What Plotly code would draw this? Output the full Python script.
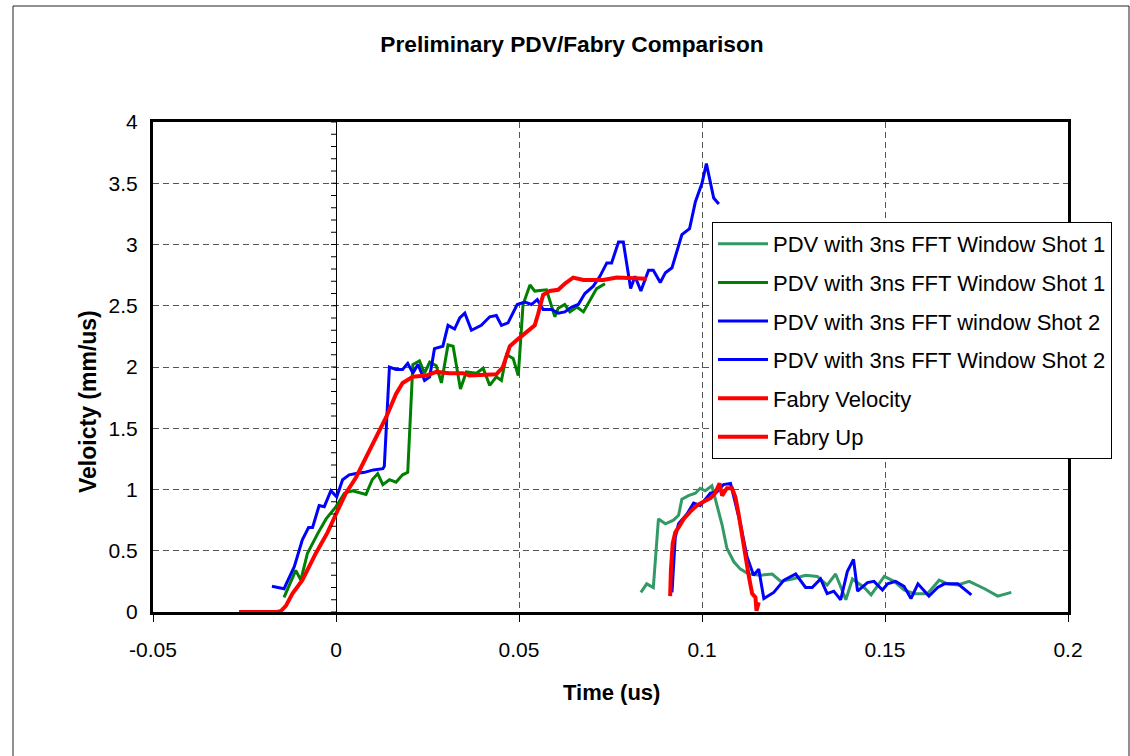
import plotly.graph_objects as go

# ---- series data: time (us) and velocity (mm/us) ----
teal_t = [0.0833, 0.0849, 0.0867, 0.0881, 0.0900, 0.0922, 0.0936, 0.0945, 0.0963, 0.0982,
          0.0995, 0.1009, 0.1027, 0.1041, 0.1055, 0.1068, 0.1087, 0.1105, 0.1128, 0.1160,
          0.1192, 0.1215, 0.1247, 0.1283, 0.1315, 0.1342, 0.1365, 0.1393, 0.1411, 0.1443,
          0.1462, 0.1498, 0.1525, 0.1552, 0.1580, 0.1616, 0.1648, 0.1671, 0.1699, 0.1730,
          0.1772, 0.1808, 0.1845]
teal_v = [0.16, 0.23, 0.20, 0.76, 0.72, 0.75, 0.79, 0.92, 0.95, 0.97,
          1.01, 0.99, 1.03, 0.86, 0.71, 0.52, 0.41, 0.35, 0.31, 0.30,
          0.31, 0.25, 0.27, 0.30, 0.29, 0.22, 0.31, 0.10, 0.27, 0.20,
          0.14, 0.29, 0.25, 0.18, 0.15, 0.15, 0.26, 0.23, 0.22, 0.25,
          0.19, 0.13, 0.16]

green_t = [-0.0142, -0.0110, -0.0096, -0.0078, -0.0050, -0.0027, 0.0000, 0.0023, 0.0045, 0.0082,
           0.0099, 0.0114, 0.0128, 0.0146, 0.0164, 0.0182, 0.0196, 0.0210, 0.0228, 0.0242,
           0.0256, 0.0274, 0.0288, 0.0306, 0.0320, 0.0340, 0.0356, 0.0384, 0.0402, 0.0420,
           0.0438, 0.0452, 0.0466, 0.0484, 0.0498, 0.0511, 0.0530, 0.0543, 0.0575, 0.0598,
           0.0607, 0.0625, 0.0639, 0.0658, 0.0676, 0.0694, 0.0712, 0.0735]
green_v = [0.12, 0.34, 0.26, 0.48, 0.64, 0.76, 0.86, 0.97, 0.99, 0.96,
           1.08, 1.13, 1.04, 1.08, 1.06, 1.12, 1.14, 2.02, 2.05, 1.95,
           2.04, 2.01, 1.87, 2.18, 2.17, 1.82, 1.96, 1.95, 1.99, 1.85,
           1.92, 1.89, 2.10, 2.07, 1.93, 2.51, 2.67, 2.62, 2.63, 2.41,
           2.48, 2.51, 2.45, 2.49, 2.45, 2.55, 2.64, 2.68]

blue1_t = [-0.0175, -0.0142, -0.0114, -0.0092, -0.0075, -0.0064, -0.0046, -0.0032, -0.0014, 0.0002,
           0.0018, 0.0036, 0.0055, 0.0078, 0.0102, 0.0128, 0.0132, 0.0146, 0.0164, 0.0182,
           0.0196, 0.0210, 0.0224, 0.0242, 0.0256, 0.0269, 0.0292, 0.0306, 0.0324, 0.0338,
           0.0352, 0.0370, 0.0397, 0.0420, 0.0438, 0.0452, 0.0470, 0.0495, 0.0516, 0.0534,
           0.0550, 0.0566, 0.0589, 0.0607, 0.0625, 0.0644, 0.0662, 0.0680, 0.0703, 0.0721,
           0.0740, 0.0753, 0.0772, 0.0785, 0.0805, 0.0817, 0.0833, 0.0854, 0.0867, 0.0886,
           0.0900, 0.0918, 0.0945, 0.0966, 0.0982, 0.1000, 0.1012, 0.1032, 0.1046]
blue1_v = [0.21, 0.19, 0.37, 0.59, 0.69, 0.69, 0.87, 0.86, 0.99, 0.94,
           1.08, 1.12, 1.13, 1.14, 1.16, 1.17, 1.19, 2.00, 1.98, 1.98,
           2.03, 1.95, 2.02, 1.89, 1.92, 2.15, 2.17, 2.34, 2.31, 2.40,
           2.44, 2.30, 2.34, 2.41, 2.42, 2.34, 2.36, 2.51, 2.53, 2.51,
           2.55, 2.47, 2.47, 2.44, 2.45, 2.49, 2.51, 2.60, 2.66, 2.74,
           2.85, 2.85, 3.02, 3.02, 2.64, 2.74, 2.62, 2.79, 2.79, 2.69,
           2.77, 2.81, 3.08, 3.13, 3.35, 3.50, 3.66, 3.38, 3.33]

blue2_t = [0.0918, 0.0927, 0.0936, 0.0959, 0.0977, 0.0995, 0.1023, 0.1041, 0.1059, 0.1078,
           0.1091, 0.1105, 0.1123, 0.1141, 0.1155, 0.1169, 0.1196, 0.1224, 0.1256, 0.1283,
           0.1301, 0.1324, 0.1342, 0.1360, 0.1379, 0.1397, 0.1414, 0.1425, 0.1452, 0.1470,
           0.1493, 0.1507, 0.1529, 0.1552, 0.1571, 0.1590, 0.1620, 0.1644, 0.1662, 0.1699,
           0.1736]
blue2_v = [0.16, 0.61, 0.72, 0.80, 0.89, 0.87, 0.97, 0.98, 1.04, 1.05,
           0.89, 0.72, 0.45, 0.30, 0.35, 0.11, 0.16, 0.26, 0.31, 0.20,
           0.20, 0.27, 0.15, 0.17, 0.10, 0.33, 0.43, 0.17, 0.24, 0.25,
           0.18, 0.23, 0.25, 0.21, 0.11, 0.23, 0.13, 0.20, 0.23, 0.23,
           0.14]

fabry_vel_t = [-0.0265, -0.0200, -0.0160, -0.0150, -0.0137, -0.0119, -0.0092, -0.0055, -0.0023, 0.0000,
               0.0027, 0.0055, 0.0082, 0.0110, 0.0137, 0.0164, 0.0182, 0.0210, 0.0247, 0.0274,
               0.0310, 0.0347, 0.0365, 0.0438, 0.0456, 0.0475, 0.0498, 0.0521, 0.0543, 0.0552,
               0.0566, 0.0584, 0.0607, 0.0625, 0.0648, 0.0676, 0.0730, 0.0767, 0.0849]
fabry_vel_v = [0.00, 0.00, 0.00, 0.01, 0.05, 0.15, 0.26, 0.48, 0.65, 0.80,
               0.97, 1.10, 1.27, 1.43, 1.59, 1.78, 1.87, 1.92, 1.93, 1.96,
               1.95, 1.95, 1.93, 1.94, 2.00, 2.17, 2.23, 2.29, 2.34, 2.43,
               2.59, 2.62, 2.63, 2.68, 2.73, 2.71, 2.71, 2.73, 2.72]

fabry_up_t = [0.0913, 0.0915, 0.0920, 0.0927, 0.0936, 0.0950, 0.0968, 0.0986, 0.1004, 0.1023,
              0.1036, 0.1048, 0.1055, 0.1068, 0.1082, 0.1091, 0.1100, 0.1110, 0.1119, 0.1128,
              0.1137, 0.1146, 0.1149, 0.1155]
fabry_up_v = [0.13, 0.34, 0.56, 0.65, 0.69, 0.76, 0.82, 0.87, 0.90, 0.93,
              0.97, 1.05, 0.95, 1.01, 1.01, 0.94, 0.80, 0.61, 0.45, 0.29,
              0.15, 0.12, 0.01, 0.08]

x_ticks = [-0.05, 0, 0.05, 0.1, 0.15, 0.2]
x_tick_text = ["-0.05", "0", "0.05", "0.1", "0.15", "0.2"]
y_ticks = [0, 0.5, 1, 1.5, 2, 2.5, 3, 3.5, 4]
y_tick_text = ["0", "0.5", "1", "1.5", "2", "2.5", "3", "3.5", "4"]

FONT = "Liberation Sans, Arial, sans-serif"

# (time, velocity, legend label, colour, line width)
series = [
    (teal_t, teal_v, "PDV with 3ns FFT Window Shot 1", "#339966", 3),
    (green_t, green_v, "PDV with 3ns FFT Window Shot 1", "#008000", 3),
    (blue1_t, blue1_v, "PDV with 3ns FFT window Shot 2", "#0000FF", 3),
    (blue2_t, blue2_v, "PDV with 3ns FFT Window Shot 2", "#0000FF", 3),
    (fabry_vel_t, fabry_vel_v, "Fabry Velocity", "#FF0000", 4),
    (fabry_up_t, fabry_up_v, "Fabry Up", "#FF0000", 4),
]

fig = go.Figure()
for i, (t, v, name, color, w) in enumerate(series):
    fig.add_trace(go.Scatter(
        x=t, y=v, mode="lines", name=name,
        line=dict(color=color, width=w),
        legendgroup=f"g{i}",
    ))

# short tick marks along the vertical axis line at x = 0 (every 0.1)
shapes = []
for k in range(41):
    yv = k / 10
    shapes.append(dict(
        type="line", xref="x", yref="y", xsizemode="pixel", xanchor=0,
        x0=-5, x1=0, y0=yv, y1=yv, line=dict(color="black", width=1),
    ))
# outer chart border
shapes.append(dict(
    type="rect", xref="paper", yref="paper",
    x0=(13 - 153) / 915, x1=(1129 - 153) / 915,
    y0=(612 - 770) / 490, y1=(612 - 6) / 490,
    line=dict(color="#222222", width=1), layer="below",
))

grid = dict(showgrid=True, gridcolor="#555555", gridwidth=1, griddash="6px,4px")

fig.update_layout(
    width=1130, height=756,
    margin=dict(l=153, r=62, t=122, b=144),
    paper_bgcolor="white", plot_bgcolor="white",
    font=dict(family=FONT, color="black"),
    title=dict(
        text="<b>Preliminary PDV/Fabry Comparison</b>",
        font=dict(family=FONT, size=22.7, color="black"),
        xref="paper", x=(572 - 153) / 915, xanchor="center",
        yref="container", y=1 - 44 / 756, yanchor="middle",
    ),
    xaxis=dict(
        range=[-0.05, 0.2], tickvals=x_ticks, ticktext=x_tick_text,
        tickfont=dict(size=21), ticks="outside", ticklen=7, tickcolor="black", tickwidth=1,
        ticklabelstandoff=10,
        showline=True, linecolor="black", linewidth=3, mirror=True,
        zeroline=True, zerolinecolor="black", zerolinewidth=1,
        **grid,
    ),
    yaxis=dict(
        range=[0, 4], tickvals=y_ticks, ticktext=y_tick_text,
        tickfont=dict(size=21), ticks="", ticklabelstandoff=8,
        showline=True, linecolor="black", linewidth=3, mirror=True,
        zeroline=False,
        **grid,
    ),
    legend=dict(
        x=(712 - 153) / 915, y=(612 - 222) / 490, xanchor="left", yanchor="top",
        bgcolor="white", bordercolor="black", borderwidth=1,
        font=dict(family=FONT, size=22, color="black"),
        tracegroupgap=7, itemwidth=50,
    ),
    annotations=[
        dict(text="<b>Time (us)</b>", xref="paper", yref="paper",
             x=(611 - 153) / 915, y=(612 - 692) / 490, xanchor="center", yanchor="middle",
             showarrow=False, font=dict(family=FONT, size=22, color="black")),
        dict(text="<b>Veloicty (mm/us)</b>", xref="paper", yref="paper",
             x=(88 - 153) / 915, y=(612 - 402) / 490, xanchor="center", yanchor="middle",
             textangle=-90, showarrow=False, font=dict(family=FONT, size=23, color="black")),
    ],
    shapes=shapes,
)

fig.write_html("out.html")
